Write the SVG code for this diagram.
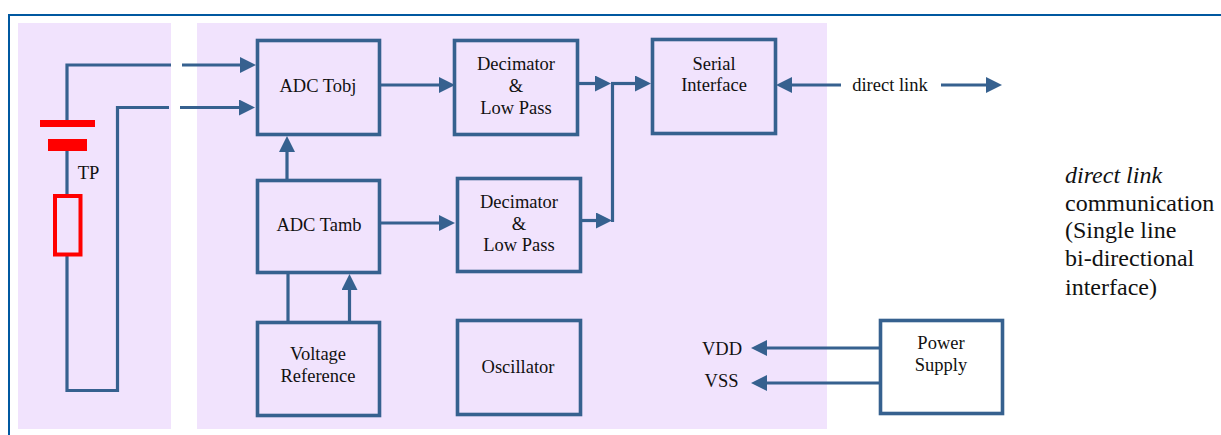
<svg xmlns="http://www.w3.org/2000/svg" width="1221" height="435" viewBox="0 0 1221 435">
<style>
.panel{fill:#f1e3fd}
.box{fill:none;stroke:#36618f;stroke-width:3.6}
.c{fill:none;stroke:#36618f;stroke-width:3.2}
.a{marker-end:url(#arrow)}
.red{fill:#ff0000}
text{font-family:"Liberation Serif","Times New Roman",serif;font-size:18.5px;fill:#111;text-anchor:middle}
.l{text-anchor:start;font-size:24px}
</style>
<defs>
<marker id="arrow" markerUnits="userSpaceOnUse" markerWidth="16" markerHeight="16" refX="1" refY="8" orient="auto"><path d="M0 0L16 8L0 16Z" fill="#36618f"/></marker>
</defs>
<rect width="1221" height="435" fill="#fff"/>
<path d="M9 435V15H1221" fill="none" stroke="#0058a0" stroke-width="2"/>
<rect class="panel" x="18" y="23" width="153" height="406"/>
<rect class="panel" x="197" y="23" width="630" height="406"/>
<g id="connectors">
<path class="c" d="M67 120V65H171"/>
<path class="c a" d="M182 65H241"/>
<path class="c" d="M67 151V194M67 256V390.500H117.500V107.500H169"/>
<path class="c a" d="M180 107.500H240"/>
<path class="c a" d="M287 179V151"/>
<path class="c" d="M288 274V321"/>
<path class="c a" d="M349.500 322V289"/>
<path class="c a" d="M381 85H440"/>
<path class="c a" d="M381 223H440"/>
<path class="c a" d="M579 83.500H596"/>
<path class="c a" d="M582 220.500H597"/>
<path class="c" d="M612.500 222V83.500"/>
<path class="c a" d="M611 83.500H636"/>
<path class="c a" d="M841 85H791"/>
<path class="c a" d="M941 85H987"/>
<path class="c a" d="M879 348H766"/>
<path class="c a" d="M879 383H766"/>
</g>
<g id="tp">
<rect class="red" x="40" y="120" width="55" height="7"/>
<rect class="red" x="48" y="139" width="39" height="12"/>
<rect x="55" y="196" width="25.500" height="58.500" fill="none" stroke="#ff0000" stroke-width="4"/>
<text x="88.500" y="178.500">TP</text>
</g>
<g id="adc-tobj"><rect class="box" x="257.500" y="40.500" width="122" height="94"/><text x="318" y="91.500">ADC Tobj</text></g>
<g id="adc-tamb"><rect class="box" x="257.500" y="180.500" width="122" height="92"/><text x="319" y="230.500">ADC Tamb</text></g>
<g id="voltage-reference"><rect class="box" x="257.500" y="322.500" width="122" height="93"/><text x="318" y="359.500">Voltage</text><text x="318" y="381.500">Reference</text></g>
<g id="decimator-1"><rect class="box" x="454.500" y="40.500" width="123" height="94"/><text x="516" y="69.500">Decimator</text><text x="516" y="91.500">&amp;</text><text x="516" y="113.500">Low Pass</text></g>
<g id="decimator-2"><rect class="box" x="457.500" y="178.500" width="123" height="93"/><text x="519" y="207.500">Decimator</text><text x="519" y="229.500">&amp;</text><text x="519" y="250.500">Low Pass</text></g>
<g id="oscillator"><rect class="box" x="457.500" y="320.500" width="123" height="94"/><text x="518" y="372.500">Oscillator</text></g>
<g id="serial-interface"><rect class="box" x="652.500" y="39.500" width="123" height="94"/><text x="714" y="69.500">Serial</text><text x="714" y="90.500">Interface</text></g>
<g id="power-supply"><rect class="box" x="880.500" y="320.500" width="122" height="93"/><text x="941" y="348.500">Power</text><text x="941" y="370.500">Supply</text></g>
<text x="722" y="354.500">VDD</text>
<text x="721.500" y="386.500">VSS</text>
<text x="890" y="91">direct link</text>
<text class="l" x="1065" y="183" font-style="italic">direct link</text>
<text class="l" x="1065" y="210.500">communication</text>
<text class="l" x="1065" y="238">(Single line</text>
<text class="l" x="1065" y="265.500">bi-directional</text>
<text class="l" x="1065" y="295">interface)</text>
</svg>
